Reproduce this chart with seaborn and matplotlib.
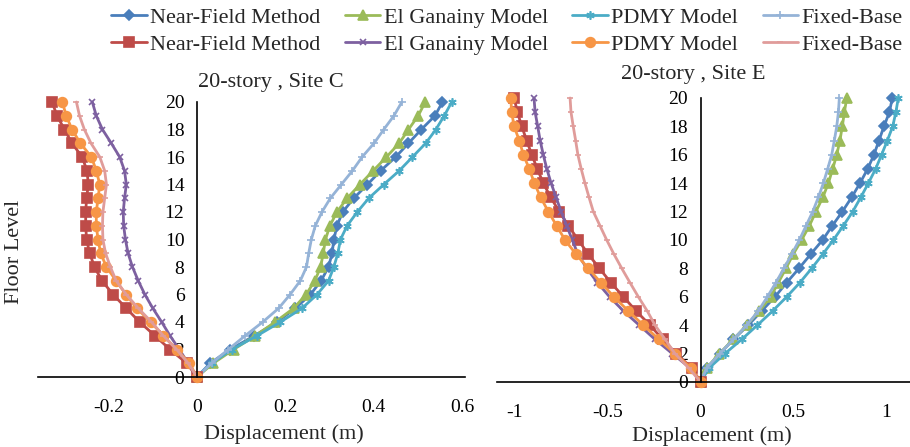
import matplotlib
matplotlib.use("Agg")
import matplotlib.pyplot as plt
import numpy as np
import pandas as pd
import seaborn as sns

floors = list(range(21))

# ---- Site C ----
c_nf_pos = [0, 0.030, 0.075, 0.130, 0.181, 0.223, 0.257, 0.281, 0.298, 0.306, 0.310,
            0.317, 0.330, 0.355, 0.386, 0.416, 0.450, 0.479, 0.508, 0.539, 0.556]
c_eg_pos = [0, 0.037, 0.083, 0.132, 0.177, 0.219, 0.247, 0.267, 0.280, 0.286, 0.291,
            0.301, 0.317, 0.340, 0.369, 0.399, 0.429, 0.458, 0.479, 0.501, 0.517]
c_pdmy_pos = [0, 0.033, 0.079, 0.136, 0.189, 0.238, 0.272, 0.298, 0.310, 0.319, 0.325,
              0.340, 0.363, 0.389, 0.423, 0.458, 0.488, 0.518, 0.541, 0.560, 0.577]
c_fb_pos = [0, 0.033, 0.071, 0.109, 0.149, 0.185, 0.211, 0.234, 0.248, 0.253, 0.259,
            0.268, 0.283, 0.302, 0.327, 0.352, 0.374, 0.401, 0.423, 0.446, 0.464]
c_nf_neg = [0, -0.023, -0.061, -0.095, -0.130, -0.160, -0.190, -0.215, -0.232, -0.243, -0.250,
            -0.252, -0.252, -0.250, -0.246, -0.249, -0.260, -0.283, -0.300, -0.317, -0.328]
c_eg_neg = [0, -0.020, -0.040, -0.061, -0.080, -0.100, -0.118, -0.133, -0.146, -0.156, -0.162,
            -0.166, -0.167, -0.164, -0.160, -0.164, -0.175, -0.194, -0.214, -0.228, -0.237]
c_pdmy_neg = [0, -0.017, -0.046, -0.076, -0.105, -0.136, -0.161, -0.183, -0.205, -0.218, -0.224,
              -0.228, -0.228, -0.224, -0.220, -0.228, -0.239, -0.264, -0.283, -0.296, -0.305]
c_fb_neg = [0, -0.020, -0.046, -0.076, -0.103, -0.133, -0.160, -0.183, -0.196, -0.207, -0.213,
            -0.214, -0.213, -0.209, -0.205, -0.209, -0.220, -0.240, -0.255, -0.266, -0.273]

# ---- Site E ----
e_nf_pos = [0, 0.036, 0.104, 0.176, 0.256, 0.328, 0.400, 0.463, 0.529, 0.592, 0.656,
            0.708, 0.762, 0.812, 0.857, 0.898, 0.932, 0.959, 0.986, 1.015, 1.031]
e_eg_pos = [0, 0.033, 0.101, 0.176, 0.248, 0.316, 0.377, 0.418, 0.459, 0.498, 0.543,
            0.585, 0.620, 0.657, 0.687, 0.710, 0.732, 0.749, 0.762, 0.773, 0.786]
e_pdmy_pos = [0, 0.047, 0.131, 0.221, 0.305, 0.387, 0.463, 0.534, 0.597, 0.657, 0.714,
              0.767, 0.818, 0.861, 0.902, 0.941, 0.973, 1.004, 1.033, 1.050, 1.063]
e_fb_pos = [0, 0.033, 0.104, 0.176, 0.248, 0.310, 0.359, 0.405, 0.448, 0.490, 0.531,
            0.567, 0.603, 0.633, 0.660, 0.683, 0.705, 0.719, 0.732, 0.741, 0.746]
e_nf_neg = [0, -0.048, -0.132, -0.204, -0.272, -0.347, -0.415, -0.483, -0.544, -0.604, -0.658,
            -0.711, -0.760, -0.806, -0.846, -0.878, -0.908, -0.935, -0.962, -0.985, -1.003]
e_eg_neg = [0, -0.058, -0.152, -0.245, -0.330, -0.415, -0.490, -0.555, -0.612, -0.660, -0.690,
            -0.720, -0.750, -0.777, -0.804, -0.827, -0.846, -0.863, -0.876, -0.890, -0.896]
e_pdmy_neg = [0, -0.053, -0.138, -0.224, -0.308, -0.389, -0.466, -0.537, -0.604, -0.670, -0.729,
              -0.774, -0.819, -0.860, -0.894, -0.921, -0.953, -0.975, -1.003, -1.016, -1.021]
e_fb_neg = [0, -0.065, -0.138, -0.191, -0.245, -0.287, -0.335, -0.380, -0.424, -0.466, -0.505,
            -0.541, -0.577, -0.600, -0.622, -0.642, -0.660, -0.672, -0.685, -0.697, -0.702]

labels = ["Near-Field Method", "El Ganainy Model", "PDMY Model", "Fixed-Base"]
y_ticks = [0, 2, 4, 6, 8, 10, 12, 14, 16, 18, 20]
c_xticks = [-0.2, 0, 0.2, 0.4, 0.6]
e_xticks = [-1, -0.5, 0, 0.5, 1]

sns.set_theme(style="white")
plt.rcParams["font.family"] = ["Liberation Serif", "DejaVu Serif"]
plt.rcParams["axes.unicode_minus"] = False

# style: (color, marker, markersize)
pos_styles = [("#4A7EBB", "D", 5), ("#9BBB59", "^", 7), ("#4BACC6", (6, 2, 0), 6), ("#95B3D7", "+", 6)]
neg_styles = [("#BE4B48", "s", 7), ("#7D60A0", "x", 5), ("#F79646", "o", 7), ("#E09C9A", "_", 5)]

fig = plt.figure(figsize=(9.10, 4.47), dpi=100)
axC = fig.add_axes([38 / 910, 1 - 377 / 447, (465 - 38) / 910, (377 - 102) / 447])
axE = fig.add_axes([497 / 910, 1 - 382 / 447, (910 - 497) / 910, (382 - 98) / 447])

handles = {}
for ax, pos_series, neg_series in [
    (axC, [c_nf_pos, c_eg_pos, c_pdmy_pos, c_fb_pos], [c_nf_neg, c_eg_neg, c_pdmy_neg, c_fb_neg]),
    (axE, [e_nf_pos, e_eg_pos, e_pdmy_pos, e_fb_pos], [e_nf_neg, e_eg_neg, e_pdmy_neg, e_fb_neg]),
]:
    for grp, series, styles in [("pos", pos_series, pos_styles), ("neg", neg_series, neg_styles)]:
        for i, (vals, (col, mk, ms)) in enumerate(zip(series, styles)):
            df = pd.DataFrame({"disp": vals, "floor": floors})
            sns.lineplot(data=df, x="disp", y="floor", sort=False, estimator=None, ax=ax,
                         color=col, marker=mk, markersize=ms, linewidth=2.0,
                         markeredgecolor=col, markeredgewidth=1.2, clip_on=False)
            handles[(grp, i)] = ax.lines[-1]

for ax, xl, xt in [(axC, (-0.36, 0.607), c_xticks), (axE, (-1.095, 1.126), e_xticks)]:
    ax.set_xlim(*xl)
    ax.set_ylim(0, 20)
    ax.set_xticks(xt)
    ax.set_xticklabels([f"{v:g}" for v in xt])
    ax.set_yticks(y_ticks)
    ax.set_xlabel("")
    ax.set_ylabel("")
    ax.spines["left"].set_position(("data", 0))
    ax.spines["right"].set_visible(False)
    ax.spines["top"].set_visible(False)
    for s in ("left", "bottom"):
        ax.spines[s].set_color("black")
        ax.spines[s].set_linewidth(1.2)
    ax.tick_params(axis="both", length=0, labelsize=14, colors="black")
    ax.tick_params(axis="x", pad=16)
    ax.tick_params(axis="y", pad=9)
    ax.patch.set_alpha(0)

fs = 16
fig.text(271 / 910, 1 - 83 / 447, "20-story , Site C", ha="center", va="center", fontsize=fs)
fig.text(693 / 910, 1 - 75 / 447, "20-story , Site E", ha="center", va="center", fontsize=fs)
fig.text(284 / 910, 1 - 434 / 447, "Displacement (m)", ha="center", va="center", fontsize=fs)
fig.text(712 / 910, 1 - 436 / 447, "Displacement (m)", ha="center", va="center", fontsize=fs)
fig.text(15 / 910, 1 - 252 / 447, "Floor Level", ha="center", va="center", rotation=90, fontsize=fs)

order = []
for i in range(4):
    order += [handles[("pos", i)], handles[("neg", i)]]
leg_labels = []
for l in labels:
    leg_labels += [l, l]
fig.legend(order, leg_labels, loc="center", bbox_to_anchor=(507 / 910, 1 - 31 / 447), ncol=4,
           frameon=False, fontsize=fs, handlelength=1.6, handletextpad=0.15,
           columnspacing=1.1, labelspacing=0.3, borderpad=0.1)

fig.savefig("out.png", dpi=100)
